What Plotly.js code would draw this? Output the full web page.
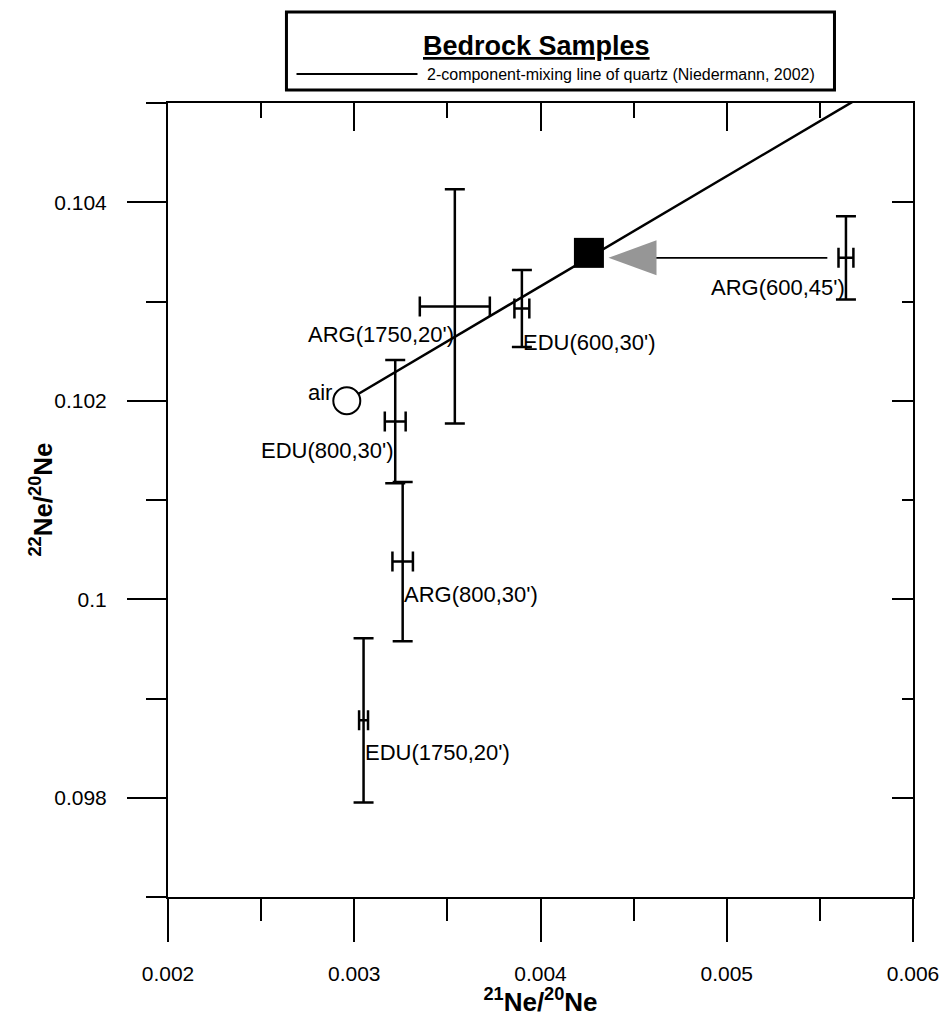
<!DOCTYPE html>
<html><head><meta charset="utf-8">
<script src="https://cdn.plot.ly/plotly-3.0.1.min.js"></script>
<style>html,body{margin:0;padding:0;background:#fff}#chart{width:943px;height:1017px}</style>
</head><body><div id="chart"></div>
<script>
// ---- data ----
const sampleNames = ["ARG(1750,20')", "EDU(600,30')", "EDU(800,30')", "ARG(800,30')", "EDU(1750,20')", "ARG(600,45')"];
const ne21 = [0.00354, 0.00390, 0.00322, 0.00326, 0.00305, 0.00564];
const ne21Err = [0.000188, 0.00004, 0.000056, 0.000055, 0.000024, 0.00004];
const ne22 = [0.10295, 0.10293, 0.10179, 0.10038, 0.09878, 0.10344];
const ne22Err = [0.00118, 0.000388, 0.00062, 0.000802, 0.000827, 0.00042];

const airX = [0.00296];
const airY = [0.102];
const airName = ['air'];

const mixLineX = [0.00296, 0.0058];
const mixLineY = [0.102, 0.10515];

const projX = [0.00426];
const projY = [0.10349];

const arrowX = [0.00462, 0.00554];
const arrowY = [0.10344, 0.10344];
const arrowHeadX = [0.004365];
const arrowHeadY = [0.10344];

const xTickVals = [0.002, 0.003, 0.004, 0.005, 0.006];
const xTickText = ['0.002', '0.003', '0.004', '0.005', '0.006'];
const xMinorVals = [0.0025, 0.0035, 0.0045, 0.0055];
const yTickVals = [0.098, 0.1, 0.102, 0.104];
const yTickText = ['0.098', '0.1', '0.102', '0.104'];
const yMinorVals = [0.097, 0.099, 0.101, 0.103, 0.105];

const xTitle = '<sup>21</sup>Ne/<sup>20</sup>Ne';
const yTitle = '<sup>22</sup>Ne/<sup>20</sup>Ne';
const legendText = '2-component-mixing line of quartz (Niedermann, 2002)';
const titleText = 'Bedrock Samples';

// ---- label placement (styling only) ----
const labelPlace = [
  {xanchor: 'right', xshift: 0, yshift: -28},
  {xanchor: 'left', xshift: 0, yshift: -34},
  {xanchor: 'right', xshift: 0, yshift: -29},
  {xanchor: 'left', xshift: 0, yshift: -33},
  {xanchor: 'left', xshift: 0, yshift: -32},
  {xanchor: 'right', xshift: 0, yshift: -30}
];

const FONT = 'Liberation Sans, Arial, sans-serif';

const traces = [
  {x: mixLineX, y: mixLineY, mode: 'lines', line: {color: '#000', width: 2.5}, hoverinfo: 'skip', showlegend: false},
  {x: arrowX, y: arrowY, mode: 'lines', line: {color: '#000', width: 1.8}, hoverinfo: 'skip', showlegend: false},
  {x: ne21, y: ne22, text: sampleNames, mode: 'markers',
   marker: {size: 2, color: 'rgba(0,0,0,0)'},
   error_x: {type: 'data', array: ne21Err, visible: true, color: '#000', thickness: 2.5, width: 10},
   error_y: {type: 'data', array: ne22Err, visible: true, color: '#000', thickness: 2.5, width: 10},
   showlegend: false},
  {x: airX, y: airY, mode: 'markers', marker: {symbol: 'circle', size: 27, color: '#fff', line: {color: '#000', width: 2}}, showlegend: false},
  {x: projX, y: projY, mode: 'markers', marker: {symbol: 'square', size: 30, color: '#000', line: {width: 0}}, showlegend: false},
  {x: [], y: [], xaxis: 'x2', yaxis: 'y', showlegend: false},
  {x: [], y: [], xaxis: 'x', yaxis: 'y2', showlegend: false}
];

const annotations = sampleNames.map((n, i) => ({
  x: ne21[i], y: ne22[i], xref: 'x', yref: 'y', text: n, showarrow: false,
  xanchor: labelPlace[i].xanchor, yanchor: 'middle', xshift: labelPlace[i].xshift, yshift: labelPlace[i].yshift,
  borderpad: 0, font: {family: FONT, size: 22, color: '#000'}
}));
annotations.push({x: airX[0], y: airY[0], xref: 'x', yref: 'y', text: airName[0], showarrow: false,
  xanchor: 'right', yanchor: 'middle', xshift: -14, yshift: 8, borderpad: 0,
  font: {family: FONT, size: 22, color: '#000'}});
annotations.push({x: 0.4946, y: 1.0718, xref: 'paper', yref: 'paper', text: '<b><u>' + titleText + '</u></b>', showarrow: false,
  xanchor: 'center', yanchor: 'middle', font: {family: FONT, size: 27, color: '#000'}});
annotations.push({x: 0.3443, y: 1.0365, xref: 'paper', yref: 'paper', text: legendText, showarrow: false,
  xanchor: 'left', yanchor: 'middle', font: {family: FONT, size: 16, color: '#000'}});
annotations.push({x: -0.171, y: 0.5, xref: 'paper', yref: 'paper', text: '<b>' + yTitle + '</b>', showarrow: false,
  textangle: -90, xanchor: 'center', yanchor: 'middle', font: {family: FONT, size: 26, color: '#000'}});

const shapes = [
  {type: 'rect', xref: 'paper', yref: 'paper', x0: 0.159, x1: 0.8946, y0: 1.0164, y1: 1.1146, line: {color: '#000', width: 3}, fillcolor: 'rgba(0,0,0,0)'},
  {type: 'line', xref: 'paper', yref: 'paper', x0: 0.1725, x1: 0.3349, y0: 1.0365, y1: 1.0365, line: {color: '#000', width: 2}},
  {type: 'path', xref: 'x', yref: 'y', xsizemode: 'pixel', ysizemode: 'pixel', xanchor: arrowHeadX[0], yanchor: arrowHeadY[0],
   path: 'M0,0 L48,17.5 L48,-17.5 Z', fillcolor: '#969696', line: {width: 0}}
];

const axisCommon = {showgrid: false, zeroline: false, tickcolor: '#000', tickwidth: 2,
  tickfont: {family: FONT, size: 21, color: '#000'}};

const layout = {
  width: 943, height: 1017,
  margin: {l: 168, r: 30, t: 103, b: 120, pad: 0},
  paper_bgcolor: '#fff', plot_bgcolor: '#fff',
  showlegend: false,
  font: {family: FONT, color: '#000'},
  xaxis: Object.assign({}, axisCommon, {
    range: [0.002, 0.006], tickmode: 'array', tickvals: xTickVals, ticktext: xTickText,
    ticks: 'outside', ticklen: 43, ticklabelstandoff: 14,
    minor: {tickmode: 'array', tickvals: xMinorVals, ticks: 'outside', ticklen: 22, tickwidth: 2, tickcolor: '#000'},
    showline: true, linecolor: '#000', linewidth: 2, mirror: true,
    title: {text: xTitle, font: {family: FONT, size: 26, weight: 'bold', color: '#000'}, standoff: 6}
  }),
  yaxis: Object.assign({}, axisCommon, {
    range: [0.097, 0.105], tickmode: 'array', tickvals: yTickVals, ticktext: yTickText,
    ticks: 'outside', ticklen: 39, ticklabelstandoff: 16,
    minor: {tickmode: 'array', tickvals: yMinorVals, ticks: 'outside', ticklen: 20, tickwidth: 2, tickcolor: '#000'},
    showline: true, linecolor: '#000', linewidth: 2, mirror: true
  }),
  xaxis2: Object.assign({}, axisCommon, {
    overlaying: 'x', side: 'top', anchor: 'y', range: [0.002, 0.006],
    tickmode: 'array', tickvals: xTickVals, showticklabels: false, ticks: 'inside', ticklen: 28,
    minor: {tickmode: 'array', tickvals: xMinorVals, ticks: 'inside', ticklen: 15, tickwidth: 2, tickcolor: '#000'},
    showline: false
  }),
  yaxis2: Object.assign({}, axisCommon, {
    overlaying: 'y', side: 'right', anchor: 'x', range: [0.097, 0.105],
    tickmode: 'array', tickvals: yTickVals, showticklabels: false, ticks: 'inside', ticklen: 21,
    minor: {tickmode: 'array', tickvals: yMinorVals, ticks: 'inside', ticklen: 11, tickwidth: 2, tickcolor: '#000'},
    showline: false
  }),
  annotations: annotations,
  shapes: shapes
};

Plotly.newPlot('chart', traces, layout, {displayModeBar: false, staticPlot: true});
</script>
</body></html>
